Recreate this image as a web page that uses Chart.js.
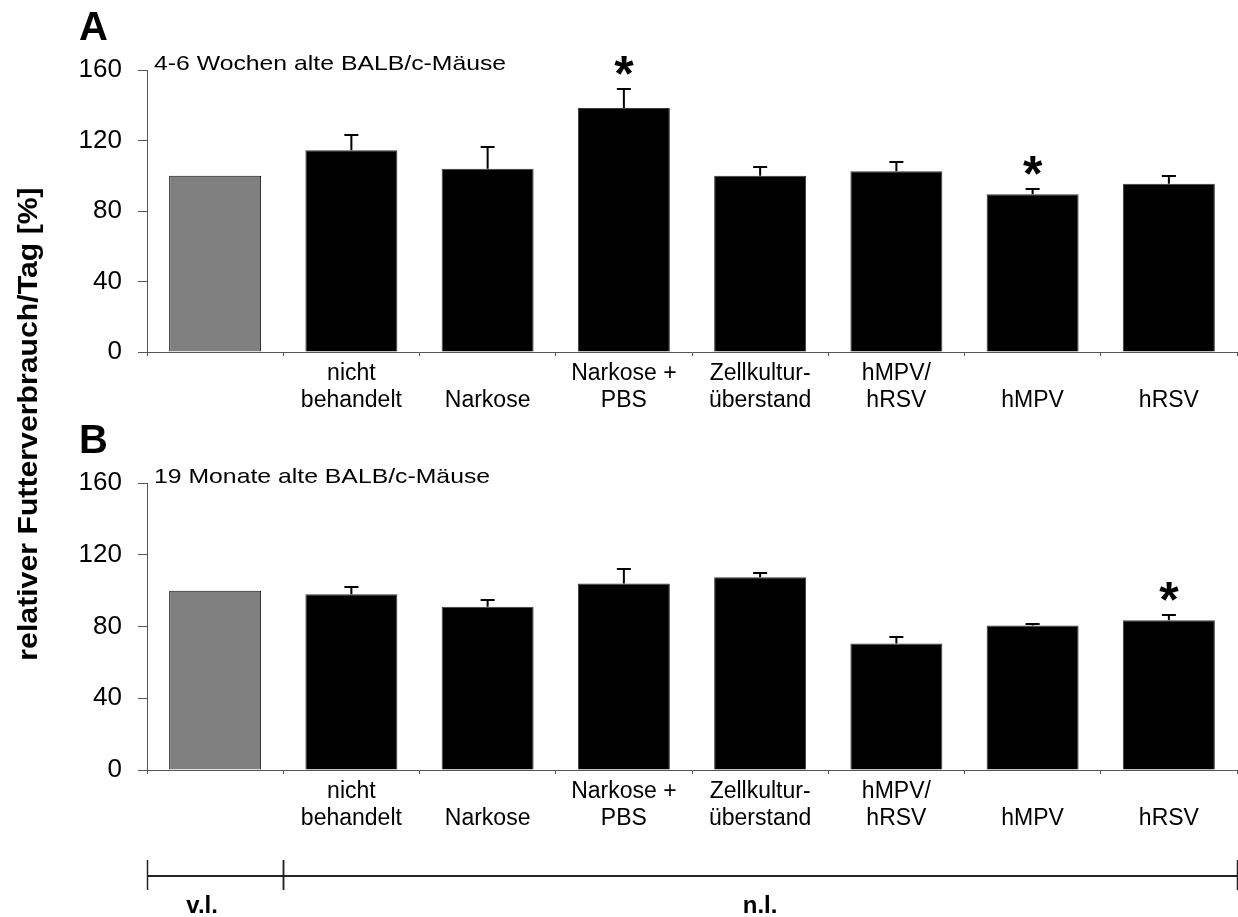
<!DOCTYPE html>
<html>
<head>
<meta charset="utf-8">
<title>Futterverbrauch</title>
<script src="https://cdn.jsdelivr.net/npm/chart.js@4.4.1/dist/chart.umd.min.js"></script>
<style>
body{margin:0;background:#fff;}
#page{position:relative;width:1238px;height:917px;background:#fff;overflow:hidden;}
#page canvas{position:absolute;left:0;top:0;}
</style>
</head>
<body>
<div id="page">
<canvas id="panelA" width="1238" height="917"></canvas>
<canvas id="panelB" width="1238" height="917"></canvas>
</div>
<script>
/* Data */

const categories=[
["",""],
["nicht","behandelt"],
["","Narkose"],
["Narkose +","PBS"],
["Zellkultur-","überstand"],
["hMPV/","hRSV"],
["","hMPV"],
["","hRSV"]
];

const yTicks=[0,40,80,120,160];

// 4-6 weeks old mice: mean and SD (% of uninfected control)
const meanA=[100,114.5,104,138.5,100,102.5,89.5,95.5];
const sdA=[0,8.5,12.5,10.5,5,5.5,3,4.5];
const sigA=[3,6];

// 19 months old mice
const meanB=[100,98,91,104,107.5,70.5,80.5,83.5];
const sdB=[0,4,4,8,2.5,3.5,0.8,2.8];
const sigB=[7];

const FONT='"Liberation Sans", Arial, sans-serif';

Chart.defaults.font.family=FONT;
Chart.defaults.color="#000";

/* Error bars + asterisks */

const errorBars={
id:"errorBars",
afterDatasetsDraw(chart,args,opts){
const ctx=chart.ctx;
const y=chart.scales.y;
const meta=chart.getDatasetMeta(0);
const data=chart.data.datasets[0].data;
ctx.save();
ctx.strokeStyle="#000";
ctx.fillStyle="#000";
ctx.lineWidth=2;
meta.data.forEach((bar,i)=>{
const sd=opts.sd[i];
if(!sd) return;
const top=Math.round(y.getPixelForValue(data[i]+sd));
ctx.beginPath();
ctx.moveTo(bar.x,bar.y);
ctx.lineTo(bar.x,top);
ctx.moveTo(bar.x-7,top);
ctx.lineTo(bar.x+7,top);
ctx.stroke();
if(opts.sig.includes(i)){
ctx.font="bold 50px "+FONT;
ctx.textAlign="center";
ctx.textBaseline="alphabetic";
ctx.fillText("*",bar.x,top+2);
}
});
ctx.restore();
}
};

/* Panel letter, subtitle, shared axis title, group bracket */

// text drawn a little wider than the font's natural width
function wideText(ctx,text,x,y,stretch){
ctx.save();
ctx.translate(x,y);
ctx.scale(stretch,1);
ctx.fillText(text,0,0);
ctx.restore();
}

const panelDecor={
id:"panelDecor",
afterDraw(chart,args,opts){
const ctx=chart.ctx;
const area=chart.chartArea;
ctx.save();
ctx.fillStyle="#000";
ctx.textAlign="left";
ctx.textBaseline="alphabetic";
ctx.font="bold 40px "+FONT;
ctx.fillText(opts.letter,79,area.top-30);
ctx.font="21px "+FONT;
wideText(ctx,opts.subtitle,area.left+7,area.top,1.18);

if(opts.yTitle){
ctx.save();
ctx.translate(30,424);
ctx.rotate(-Math.PI/2);
ctx.textAlign="center";
ctx.textBaseline="middle";
ctx.font="bold 27px "+FONT;
wideText(ctx,opts.yTitle,0,0,1.12);
ctx.restore();
}

if(opts.groups){
const x=chart.scales.x;
const half=(x.getPixelForValue(1)-x.getPixelForValue(0))/2;
const edge=i=>i<=0?area.left:(i>=categories.length?area.right:x.getPixelForValue(i)-half);
const yLine=876;
ctx.strokeStyle="#222";
ctx.lineWidth=2;
ctx.beginPath();
ctx.moveTo(area.left,yLine);
ctx.lineTo(area.right,yLine);
ctx.stroke();
ctx.lineWidth=1.5;
opts.groups.forEach(g=>{
[edge(g.from),edge(g.to)].forEach(px=>{
ctx.beginPath();
ctx.moveTo(Math.round(px)+0.5,860);
ctx.lineTo(Math.round(px)+0.5,890);
ctx.stroke();
});
ctx.font="bold 24px "+FONT;
ctx.textAlign="center";
ctx.fillText(g.label,(edge(g.from)+edge(g.to))/2+(g.dx||0),913);
});
}
ctx.restore();
}
};

/* Build one panel */

function makePanel(id,mean,sd,sig,areaTop,areaBottom,decor){
const xHeight=68;
return new Chart(document.getElementById(id),{
type:"bar",
data:{
labels:categories,
datasets:[{
data:mean,
backgroundColor:mean.map((v,i)=>i===0?"#808080":"#000"),
borderColor:mean.map((v,i)=>i===0?"#111":"#3a3a3a"),
borderWidth:1,
barPercentage:0.675,
categoryPercentage:1
}]
},
options:{
responsive:false,
animation:false,
events:[],
layout:{
padding:{top:areaTop,left:0,right:1,bottom:917-areaBottom-xHeight}
},
plugins:{
legend:{display:false},
tooltip:{enabled:false},
errorBars:{sd:sd,sig:sig},
panelDecor:decor
},
scales:{
y:{
min:0,
max:160,
afterBuildTicks(scale){
scale.ticks=yTicks.map(v=>({value:v}));
},
afterFit(scale){
scale.width=147;
},
border:{color:"#555",width:1},
grid:{drawOnChartArea:false,drawTicks:true,tickLength:9,color:"#555"},
ticks:{font:{size:26},padding:16,color:"#000"}
},
x:{
afterFit(scale){
scale.height=xHeight;
},
border:{color:"#555",width:1},
grid:{drawOnChartArea:false,drawTicks:true,tickLength:4,color:"#555",offset:true},
ticks:{font:{size:23,lineHeight:1.174},padding:4,autoSkip:false,maxRotation:0,color:"#000"}
}
}
},
plugins:[errorBars,panelDecor]
});
}

makePanel("panelA",meanA,sdA,sigA,70,352,{
letter:"A",
subtitle:"4-6 Wochen alte BALB/c-Mäuse",
yTitle:"relativer Futterverbrauch/Tag [%]"
});

makePanel("panelB",meanB,sdB,sigB,483,770,{
letter:"B",
subtitle:"19 Monate alte BALB/c-Mäuse",
groups:[
{label:"v.l.",from:0,to:1,dx:-13},
{label:"n.l.",from:1,to:8}
]
});
</script>
</body>
</html>
